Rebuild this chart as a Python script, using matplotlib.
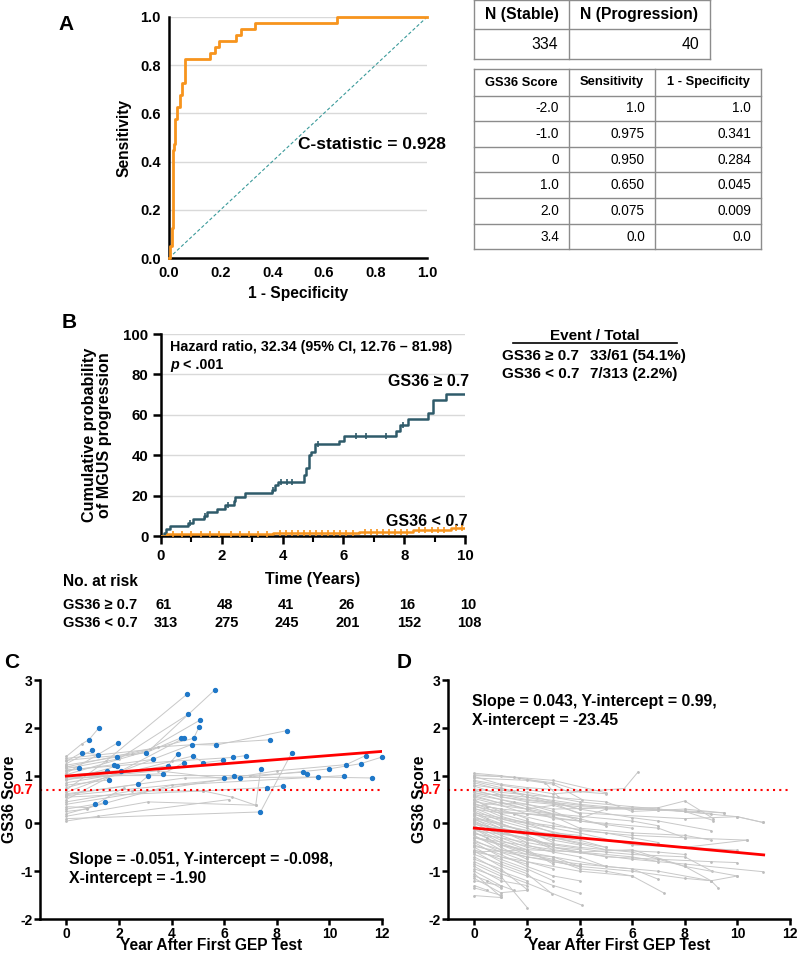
import numpy as np
import matplotlib.pyplot as plt
from matplotlib.transforms import blended_transform_factory

plt.rcParams['font.family'] = ['Liberation Sans', 'DejaVu Sans']
plt.rcParams['font.weight'] = 'bold'
plt.rcParams['axes.labelweight'] = 'bold'
plt.rcParams['axes.unicode_minus'] = False
plt.rcParams['axes.linewidth'] = 1.8

ORANGE = '#F7941D'
TEAL = '#2F5B6A'
GRID = '#d9d9d9'
BLUE = '#1f78c8'
GREY = '#c8c8c8'

# --- panel A: ROC ---
roc_fpr = [0, 0.004, 0.01, 0.016, 0.019, 0.025, 0.03, 0.044, 0.05, 0.063, 0.16,
           0.178, 0.194, 0.259, 0.278, 0.334, 0.651, 1.0]
roc_tpr = [0, 0.05, 0.125, 0.45, 0.475, 0.575, 0.625, 0.675, 0.725, 0.825, 0.85,
           0.875, 0.90, 0.925, 0.95, 0.975, 1.0, 1.0]
c_stat = 0.928

tab1_head = ['N (Stable)', 'N (Progression)']
tab1_vals = ['334', '40']
tab2_head = ['GS36 Score', 'Sensitivity', '1 - Specificity']
tab2_score = ['-2.0', '-1.0', '0', '1.0', '2.0', '3.4']
tab2_sens = ['1.0', '0.975', '0.950', '0.650', '0.075', '0.0']
tab2_spec = ['1.0', '0.341', '0.284', '0.045', '0.009', '0.0']

# --- panel B: cumulative incidence ---
high_t = [0, 0.1, 0.15, 0.3, 0.9, 1.05, 1.4, 1.5, 1.85, 2.1, 2.4, 2.45, 2.75, 3.65,
          3.75, 3.85, 4.72, 4.78, 4.87, 4.95, 5.08, 5.86, 6.02, 7.72, 7.86, 8.14,
          8.78, 8.96, 9.38, 10]
high_y = [0, 1.6, 3.3, 5.0, 6.6, 8.4, 10.1, 11.8, 13.5, 15.3, 17.2, 19.2, 21.4, 23.0,
          25.0, 26.8, 30.0, 33.5, 40.0, 41.7, 45.4, 47.0, 49.5, 52.0, 55.0, 58.0,
          61.0, 67.3, 70.3, 70.3]
high_cens = [0.95, 1.45, 2.2, 3.7, 3.95, 4.15, 4.3, 5.17, 6.4, 6.74, 7.4, 7.95]
low_t = [0, 0.2, 2.0, 3.7, 6.5, 8.3, 9.55, 10]
low_y = [0, 0.8, 1.2, 1.5, 2.0, 2.8, 3.8, 4.2]
low_cens = [0.4, 0.7, 1.0, 1.3, 1.6, 1.9, 2.3, 2.6, 2.9, 3.2, 3.5, 3.9, 4.1, 4.3,
            4.5, 4.7, 4.9, 5.1, 5.3, 5.5, 5.7, 5.9, 6.1, 6.3, 6.7, 6.9, 7.1, 7.3,
            7.5, 7.7, 7.9, 8.1, 8.5, 8.7, 8.9, 9.1, 9.3, 9.7, 9.9]
risk_t = [0, 2, 4, 6, 8, 10]
risk_high = [61, 48, 41, 26, 16, 10]
risk_low = [313, 275, 245, 201, 152, 108]

# --- panel C: progressors (t, score, blue) ---
c_paths = [
    [(0, 1.40, 0), (0.58, 1.66, 0), (0.86, 1.75, 1), (1.24, 2.00, 1)],
    [(0, 1.30, 0), (0.58, 1.48, 1), (1.19, 1.44, 1)],
    [(0, 1.20, 0), (0.48, 1.15, 1)],
    [(0, 1.25, 0), (0.99, 1.53, 1)],
    [(0, 0.30, 0), (1.09, 0.40, 1)],
    [(0, 0.35, 0), (0.80, 0.33, 0), (1.46, 0.44, 1)],
    [(0, 1.00, 0), (1.54, 1.09, 1), (2.08, 1.10, 1)],
    [(0, 0.80, 0), (1.63, 0.91, 1)],
    [(0, 1.10, 0), (1.82, 1.23, 1), (3.29, 1.34, 1)],
    [(0, 0.90, 0), (1.92, 1.20, 1)],
    [(0, 1.22, 0), (1.94, 1.39, 1), (3.03, 1.48, 1), (4.36, 1.79, 1)],
    [(0, 1.05, 0), (1.97, 1.69, 1)],
    [(0, 0.60, 0), (2.74, 0.82, 1), (3.10, 0.99, 1)],
    [(0, 0.70, 0), (1.50, 1.30, 0), (4.58, 2.70, 1)],
    [(0, 0.95, 0), (3.68, 1.04, 1), (4.46, 1.27, 1)],
    [(0, 0.85, 0), (3.86, 1.21, 1), (4.23, 1.45, 1)],
    [(0, 1.15, 0), (2.00, 1.35, 0), (4.63, 2.28, 1)],
    [(0, 0.50, 0), (4.48, 1.79, 1)],
    [(0, 0.65, 0), (4.76, 1.65, 1), (5.70, 1.64, 1), (8.37, 1.94, 1)],
    [(0, 1.32, 0), (2.50, 1.45, 0), (4.84, 1.78, 1), (5.04, 2.01, 1)],
    [(0, 0.75, 0), (4.81, 1.41, 1), (5.21, 1.27, 1), (5.97, 1.32, 1)],
    [(0, 1.02, 0), (3.00, 1.50, 0), (5.08, 2.16, 1)],
    [(0, 1.36, 0), (3.20, 1.55, 0), (5.64, 2.79, 1)],
    [(0, 0.92, 0), (3.50, 1.10, 0), (5.99, 0.94, 1), (6.39, 0.99, 1), (6.60, 0.95, 1)],
    [(0, 1.12, 0), (4.00, 1.30, 0), (6.32, 1.38, 1), (6.83, 1.42, 1)],
    [(0, 0.15, 0), (3.10, 0.45, 0), (7.20, 0.38, 0), (7.39, 1.14, 1)],
    [(0, 0.10, 0), (7.38, 0.24, 1), (8.57, 1.48, 1)],
    [(0, 0.55, 0), (5.20, 0.68, 0), (7.61, 0.75, 1), (8.25, 0.79, 1)],
    [(0, 1.18, 0), (3.50, 1.60, 0), (7.75, 1.75, 1)],
    [(0, 1.00, 0), (7.00, 1.00, 0), (8.98, 1.07, 1), (9.14, 1.04, 1)],
    [(0, 0.62, 0), (4.50, 0.95, 0), (9.56, 0.97, 1), (11.63, 0.95, 1)],
    [(0, 0.58, 0), (9.98, 1.14, 1), (11.19, 1.25, 1), (12.01, 1.39, 1)],
    [(0, 0.20, 0), (4.00, 0.80, 0), (10.55, 1.00, 1)],
    [(0, 0.40, 0), (8.00, 1.10, 0), (10.64, 1.23, 1), (11.38, 1.42, 1)],
    [(0, 0.05, 0), (1.20, 0.15, 0), (6.20, 0.50, 0)],
    [(0, 0.25, 0), (0.80, 0.30, 0), (2.20, 0.75, 0)],
    [(0, 0.45, 0), (2.50, 0.68, 0), (5.20, 0.68, 0), (6.30, 0.55, 0), (7.20, 0.38, 0)],
]
c_fit = (0.043, 0.99)     # slope, intercept of drawn line
c_fit_x = (0, 12)

# --- panel D: stable patients ---
d_paths = [
    [(0, 1.05), (1, 1.0), (2, 0.92), (3, 0.85), (4, 0.68)],
    [(0, 1.02), (1.7, 0.95), (2.7, 0.85), (3.2, 0.55)],
    [(0, 0.98), (1, 0.82), (2, 0.75), (5, 0.62)],
    [(0, 0.95), (2, 0.9), (3, 0.82), (4.1, 0.5)],
    [(0, 0.9), (1, 0.8), (3, 0.62), (5.7, 0.73), (6.23, 1.08)],
    [(0, 0.85), (1, 0.7), (2, 0.6), (3, 0.45), (4, 0.3)],
    [(0, 0.8), (2, 0.65), (4, 0.45), (6, 0.35), (8, 0.25), (9.09, 0.06)],
    [(0, 0.78), (1, 0.6), (2, 0.5), (5, 0.32), (7, 0.33), (8, 0.47), (9.09, 0.1)],
    [(0, 0.7), (1, 0.55), (3, 0.42), (4, 0.2)],
    [(0, 0.68), (2, 0.45), (4, 0.35), (6, 0.3), (8.5, 0.25), (9.49, 0.22)],
    [(0, 0.65), (1, 0.5), (2, 0.35), (3, 0.2)],
    [(0, 0.6), (1.5, 0.45), (3, 0.3), (5, 0.32), (7, 0.3), (10, 0.14), (10.97, 0.02)],
    [(0, 0.58), (1, 0.42), (2, 0.4), (3, 0.25), (4, 0.05)],
    [(0, 0.55), (2, 0.3), (4, 0.1), (5, -0.05)],
    [(0, 0.52), (1, 0.38), (2, 0.2), (4, 0.05), (6, -0.1)],
    [(0, 0.5), (0.5, 0.35), (1, 0.3), (2, 0.1)],
    [(0, 0.48), (1, 0.25), (3, 0.15), (4, -0.1), (6, -0.2), (8, -0.25), (9, -0.35)],
    [(0, 0.45), (2, 0.3), (3, 0.1), (5, 0.0), (7, -0.1), (8, -0.3), (10.35, -0.35)],
    [(0, 0.42), (1, 0.2), (2, 0.05), (3, -0.1)],
    [(0, 0.4), (1, 0.3), (4, 0.15), (6, 0.05), (7, -0.05)],
    [(0, 0.38), (1, 0.15), (2, 0.0), (3, -0.2), (4, -0.25)],
    [(0, 0.35), (1.5, 0.2), (3, 0.0), (4, -0.15), (6, -0.25), (8, -0.3)],
    [(0, 0.32), (1, 0.1), (2, -0.05), (4, -0.3)],
    [(0, 0.3), (1, 0.22), (2, 0.2), (3, 0.18), (4, 0.1), (5, 0.3), (6, 0.3), (7, 0.28), (8, 0.25), (9, 0.2)],
    [(0, 0.28), (1, 0.05), (2, -0.1), (3, -0.3)],
    [(0, 0.25), (0.5, 0.1), (1, 0.0), (2, -0.2), (3, -0.35), (4, -0.45)],
    [(0, 0.22), (1, 0.12), (2, 0.02), (3, -0.05), (5, -0.2), (6, -0.3), (7, -0.4)],
    [(0, 0.2), (1, -0.05), (2, -0.15), (3, -0.4)],
    [(0, 0.18), (2, 0.0), (4, -0.2), (6, -0.45), (8, -0.5), (10, -0.56)],
    [(0, 0.15), (1, -0.1), (2, -0.25), (3, -0.5), (4, -0.55)],
    [(0, 0.12), (1, 0.0), (2, -0.2), (3, -0.3), (4, -0.35), (5, -0.5)],
    [(0, 0.1), (0.5, -0.05), (1, -0.15), (2, -0.4)],
    [(0, 0.08), (1, -0.1), (3, -0.3), (5, -0.55), (7, -0.6), (8, -0.65)],
    [(0, 0.05), (1, -0.2), (2, -0.3), (3, -0.55)],
    [(0, 0.02), (1, -0.15), (2, -0.35), (4, -0.5), (6, -0.6), (7, -0.75), (9, -0.8), (10, -0.82)],
    [(0, 0.0), (1, -0.25), (2, -0.45), (3, -0.6)],
    [(0, -0.02), (2, -0.2), (4, -0.4), (5, -0.5)],
    [(0, -0.05), (1, -0.3), (2, -0.5), (4, -0.7), (5, -0.9)],
    [(0, -0.08), (1, -0.2), (3, -0.45), (5, -0.6), (6, -0.65), (8, -0.7), (9.04, -1.0)],
    [(0, -0.1), (1, -0.35), (2, -0.55)],
    [(0, -0.12), (1, -0.4), (2, -0.6), (3, -0.7), (4, -0.9)],
    [(0, -0.15), (2, -0.3), (3, -0.5), (5, -0.7), (7, -0.75), (8, -0.9), (10, -1.10)],
    [(0, -0.18), (1, -0.45), (2, -0.55), (3, -0.85)],
    [(0, -0.2), (0.5, -0.3), (1, -0.5), (2, -0.75)],
    [(0, -0.22), (1, -0.3), (2, -0.4), (4, -0.6), (6, -0.7), (7, -0.8)],
    [(0, -0.25), (1, -0.55), (2, -0.7), (4, -0.85), (6, -0.95), (7, -1.17)],
    [(0, -0.28), (2, -0.6), (3, -0.8), (4, -0.9)],
    [(0, -0.3), (1, -0.45), (2, -0.65), (3, -0.7), (5, -0.9), (7, -1.0), (9, -1.2), (9.27, -1.35)],
    [(0, -0.35), (1, -0.6), (2, -0.8), (3, -0.95)],
    [(0, -0.38), (1, -0.55), (3, -0.75), (4, -0.95), (5, -1.0), (6, -1.1)],
    [(0, -0.4), (1, -0.7), (2, -0.85)],
    [(0, -0.45), (1, -0.65), (2, -0.9), (3, -1.1), (4, -1.2)],
    [(0, -0.48), (2, -0.7), (4, -0.9), (6, -1.0), (8, -1.15), (9, -1.2)],
    [(0, -0.5), (1, -0.8), (2, -1.0)],
    [(0, -0.55), (1, -0.75), (2, -0.95), (3, -1.2)],
    [(0, -0.58), (1, -0.9), (2, -1.1), (3, -1.3), (4.0, -1.46)],
    [(0, -0.6), (2, -0.8), (4, -1.0), (6, -1.1), (7.22, -1.46)],
    [(0, -0.65), (1, -0.85), (2, -1.05), (2.97, -1.48)],
    [(0, -0.7), (1, -1.0), (2, -1.2)],
    [(0, -0.75), (1, -0.95), (2, -1.38)],
    [(0, -0.8), (1, -1.05), (2, -1.25), (4.09, -1.71)],
    [(0, -0.85), (1, -1.1), (2.01, -1.76)],
    [(0, -0.9), (1, -1.2), (2, -1.3)],
    [(0, -0.95), (1, -1.15)],
    [(0, -1.0), (1, -1.3), (1.5, -1.4)],
    [(0, -1.05), (1, -1.53)],
    [(0, -1.1), (0.5, -1.2), (1, -1.35)],
    [(0, -1.15), (1, -1.45), (2, -1.4)],
    [(0, -1.2), (1, -1.3)],
    [(0, -1.3), (0.5, -1.4)],
    [(0, -1.35), (1, -1.5)],
    [(0, -1.51), (1, -1.55)],
    [(0, 0.62), (1, 0.6), (2, 0.55), (3, 0.48), (4, 0.4), (5, 0.35), (7, 0.28)],
    [(0, 0.88), (1, 0.75), (1.5, 0.65), (2, 0.55), (4, 0.3), (6, 0.12), (7, 0.05), (9, -0.15)],
    [(0, 1.0), (1.5, 0.97), (3, 0.9), (5, 0.64)],
    [(0, 0.72), (1, 0.65), (3, 0.55), (5, 0.45), (6, 0.25), (8, 0.3), (9.49, 0.22)],
    [(0, 0.35), (1, 0.45), (2, 0.3), (3, 0.38), (4, 0.22), (8, 0.1), (10, 0.14), (10.97, 0.02)],
    [(0, -0.6), (2, -0.55), (4, -0.6), (6, -0.55), (8, -0.9), (9, -1.2), (10, -1.10)],
    [(0, -0.3), (3, -0.55), (6, -0.75), (8, -0.85), (10.97, -1.01)],
    [(0, 0.1), (2, -0.15), (4, -0.3), (6, -0.4), (8, -0.5), (10.35, -0.35)],
]
d_fit = (-0.051, -0.098)
d_fit_x = (0, 11)
cutoff = 0.7

fig = plt.figure(figsize=(7.97, 9.55), dpi=100)


def frac(x0, y0, x1, y1):
    # pixel box -> figure fraction
    return [x0 / 797, 1 - y1 / 955, (x1 - x0) / 797, (y1 - y0) / 955]


# ---------- A ----------
axA = fig.add_axes(frac(169, 17, 427, 258))
axA.step(roc_fpr, roc_tpr, where='post', color=ORANGE, lw=2, zorder=3, clip_on=False)
axA.plot([0, 1], [0, 1], ls=(0, (3, 2)), color='#3a9a9a', lw=0.8)
for g in [0.2, 0.4, 0.6, 0.8, 1.0]:
    axA.axhline(g, color=GRID, lw=1, zorder=0)
axA.set_xlim(0, 1)
axA.set_ylim(0, 1)
axA.set_xticks(np.arange(0, 1.01, 0.2))
axA.set_yticks(np.arange(0, 1.01, 0.2))
axA.xaxis.set_major_formatter(plt.FormatStrFormatter('%.1f'))
axA.yaxis.set_major_formatter(plt.FormatStrFormatter('%.1f'))
axA.tick_params(length=0, labelsize=10.5, pad=6)
for s in ['top', 'right']:
    axA.spines[s].set_visible(False)
axA.set_xlabel('1 - Specificity', fontsize=11.2, labelpad=4)
axA.set_ylabel('Sensitivity', fontsize=11.2, labelpad=6)
axA.text(0.5, 0.47, 'C-statistic = %.3f' % c_stat, fontsize=12.5, ha='left', va='center',
         clip_on=False)

# ---------- B ----------
axB = fig.add_axes(frac(161, 334, 465, 536))
axB.step(high_t, high_y, where='post', color=TEAL, lw=1.8, zorder=3)
axB.step(low_t, low_y, where='post', color=ORANGE, lw=1.8, zorder=3)
axB.plot(high_cens, [high_y[np.searchsorted(high_t, c, side='right') - 1] for c in high_cens],
         ls='none', marker='|', ms=4, mew=1.2, color=TEAL, zorder=4)
axB.plot(low_cens, [low_y[np.searchsorted(low_t, c, side='right') - 1] for c in low_cens],
         ls='none', marker='|', ms=4, mew=1.2, color=ORANGE, zorder=4)
for g in [20, 40, 60, 80, 100]:
    axB.axhline(g, color=GRID, lw=1, zorder=0)
axB.set_xlim(0, 10)
axB.set_ylim(0, 100)
axB.set_xticks(range(0, 11, 2))
axB.set_xticks(range(1, 10, 2), minor=True)
axB.set_yticks(range(0, 101, 20))
axB.tick_params(which='major', length=6, width=1.8, labelsize=10.8, pad=3)
axB.tick_params(which='minor', length=4, width=1.5)
for s in ['top', 'right']:
    axB.spines[s].set_visible(False)
axB.set_xlabel('Time (Years)', fontsize=11.6, labelpad=7)
axB.set_ylabel('Cumulative probability\nof MGUS progression', fontsize=11.6, labelpad=8,
               linespacing=1.05)
axB.text(0.3, 97, 'Hazard ratio, 32.34 (95% CI, 12.76 \u2013 81.98)', fontsize=10.3, va='top')
axB.text(0.3, 88, 'p', fontsize=10.3, va='top', style='italic')
axB.text(0.72, 88, '< .001', fontsize=10.3, va='top')
axB.text(10.15, 73, 'GS36 \u2265 0.7', fontsize=11.5, ha='right', va='bottom')
axB.text(10.1, 3.5, 'GS36 < 0.7', fontsize=11.5, ha='right', va='bottom')

# ---------- C ----------
axC = fig.add_axes(frac(40, 680, 382, 919))
for path in c_paths:
    xs = [p[0] for p in path]
    ys = [p[1] for p in path]
    axC.plot(xs, ys, color=GREY, lw=0.7, marker='o', ms=2, mfc='#bdbdbd', mec='none', zorder=1)
bx = [p[0] for path in c_paths for p in path if p[2]]
by = [p[1] for path in c_paths for p in path if p[2]]
axC.scatter(bx, by, s=8, color=BLUE, zorder=3, clip_on=False)
xf = np.array(c_fit_x)
axC.plot(xf, c_fit[1] + c_fit[0] * xf, color='red', lw=2, zorder=4)
axC.text(0.1, -0.95, 'Slope = -0.051, Y-intercept = -0.098,\nX-intercept = -1.90',
         fontsize=11.4, va='center', linespacing=1.35)

# ---------- D ----------
axD = fig.add_axes(frac(448, 680, 790, 919))
for path in d_paths:
    xs = [p[0] for p in path]
    ys = [p[1] for p in path]
    axD.plot(xs, ys, color=GREY, lw=0.7, marker='o', ms=2, mfc='#bdbdbd', mec='none', zorder=1)
xf = np.array(d_fit_x)
axD.plot(xf, d_fit[1] + d_fit[0] * xf, color='red', lw=2, zorder=4)
axD.text(-0.1, 2.35, 'Slope = 0.043, Y-intercept = 0.99,\nX-intercept = -23.45',
         fontsize=11.4, va='center', linespacing=1.35)

for ax, ylx in [(axC, -0.067), (axD, -0.061)]:
    ax.axhline(cutoff, color='red', ls=(0, (1, 2)), lw=1.5, zorder=2)
    ax.set_xlim(-1, 12)
    ax.set_ylim(-2, 3)
    ax.set_xticks(range(0, 13, 2))
    ax.set_yticks(range(-2, 4))
    ax.tick_params(length=4, width=1.8, labelsize=10, pad=1.5)
    for s in ['top', 'right']:
        ax.spines[s].set_visible(False)
    ax.set_xlabel('Year After First GEP Test', fontsize=11.2)
    ax.xaxis.set_label_coords(0.5, -0.08)
    ax.set_ylabel('GS36 Score', fontsize=11.2)
    ax.yaxis.set_label_coords(ylx, 0.5)
    tr = blended_transform_factory(ax.transAxes, ax.transData)
    ax.text(-0.022, cutoff, '0.7', transform=tr, color='red', fontsize=10.5,
            ha='right', va='center')

# ---------- overlay: letters, tables, legends ----------
ov = fig.add_axes([0, 0, 1, 1])
ov.set_xlim(0, 797)
ov.set_ylim(955, 0)
ov.axis('off')

for lab, x, y in [('A', 58, 25), ('B', 62, 322), ('C', 4, 662), ('D', 397, 662)]:
    ov.text(x, y, lab, fontsize=15, va='center', ha='left')

BORDER = '#8c8c8c'
# table 1
t1x = [474, 569, 710]
t1y = [0.5, 29, 59]
for y in t1y:
    ov.plot([t1x[0], t1x[-1]], [y, y], color=BORDER, lw=1)
for x in t1x:
    ov.plot([x, x], [t1y[0], t1y[-1]], color=BORDER, lw=1)
for i, h in enumerate(tab1_head):
    ov.text((t1x[i] + t1x[i + 1]) / 2, 15, h, fontsize=11.3, ha='center', va='center')
    ov.text(t1x[i + 1] - 11, 44.5, tab1_vals[i], fontsize=11.3, ha='right', va='center',
            fontweight='normal')

# table 2
t2x = [474, 569, 655, 761]
t2y = [69.3, 95.7, 121, 146.7, 172.3, 198.3, 224.3, 249.3]
for y in t2y:
    ov.plot([t2x[0], t2x[-1]], [y, y], color=BORDER, lw=1)
for x in t2x:
    ov.plot([x, x], [t2y[0], t2y[-1]], color=BORDER, lw=1)
for i, h in enumerate(tab2_head):
    ov.text((t2x[i] + t2x[i + 1]) / 2, (t2y[0] + t2y[1]) / 2, h, fontsize=9.3, ha='center',
            va='center')
for r in range(len(tab2_score)):
    yc = (t2y[r + 1] + t2y[r + 2]) / 2
    for i, col in enumerate([tab2_score, tab2_sens, tab2_spec]):
        ov.text(t2x[i + 1] - 10, yc, col[r], fontsize=9.8, ha='right', va='center',
                fontweight='normal')

# event / total
ov.text(595, 336, 'Event / Total', fontsize=11, ha='center', va='center')
ov.plot([513, 677], [343.5, 343.5], color='black', lw=1.2)
ov.text(502, 356, 'GS36 \u2265 0.7', fontsize=11, va='center')
ov.text(590, 356, '33/61 (54.1%)', fontsize=11, va='center')
ov.text(502, 374, 'GS36 < 0.7', fontsize=11, va='center')
ov.text(590, 374, '7/313 (2.2%)', fontsize=11, va='center')

# number at risk
trB = blended_transform_factory(axB.transData, ov.transData)
ov.text(63, 581, 'No. at risk', fontsize=11.2, va='center')
ov.text(63, 605, 'GS36 \u2265 0.7', fontsize=10.5, va='center')
ov.text(63, 623, 'GS36 < 0.7', fontsize=10.5, va='center')
for t, a, b in zip(risk_t, risk_high, risk_low):
    ov.text(t + 0.1, 605, str(a), transform=trB, fontsize=10.5, ha='center', va='center')
    ov.text(t + 0.15, 623, str(b), transform=trB, fontsize=10.5, ha='center', va='center')

fig.savefig('out.png', dpi=100)
